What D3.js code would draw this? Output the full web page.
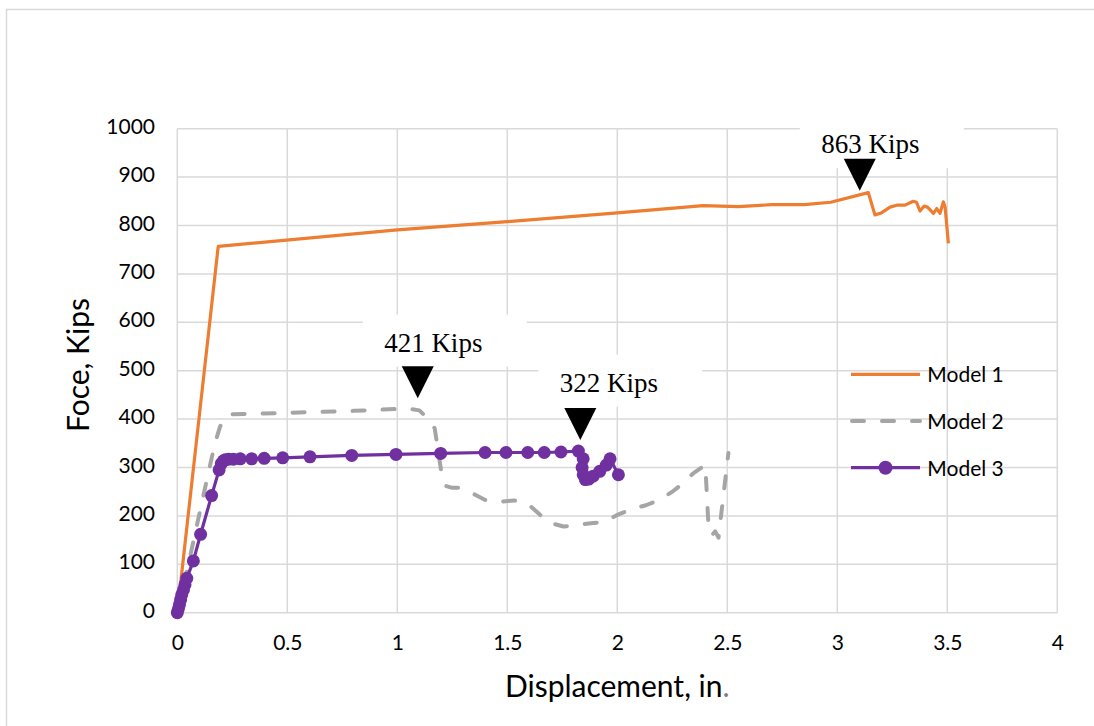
<!DOCTYPE html>
<html>
<head>
<meta charset="utf-8">
<script src="https://cdn.jsdelivr.net/npm/d3@7"></script>
<style>
  html, body { margin: 0; padding: 0; background: #fff; }
  svg { display: block; }
</style>
</head>
<body>
<svg id="chart" width="1094" height="726"></svg>
<script>
// ---------------- DATA ----------------
const xTicks = [0, 0.5, 1, 1.5, 2, 2.5, 3, 3.5, 4];
const xTickLabels = ["0", "0.5", "1", "1.5", "2", "2.5", "3", "3.5", "4"];
const yTicks = [0, 100, 200, 300, 400, 500, 600, 700, 800, 900, 1000];
const yTickLabels = ["0", "100", "200", "300", "400", "500", "600", "700", "800", "900", "1000"];

const seriesNames = ["Model 1", "Model 2", "Model 3"];

const model1X = [0, 0.186, 1.0, 1.5, 2.0, 2.39, 2.55, 2.7, 2.85, 2.97, 3.141, 3.171, 3.20, 3.24, 3.27, 3.308, 3.345, 3.36, 3.376, 3.394, 3.41, 3.437, 3.452, 3.467, 3.482, 3.49, 3.505];
const model1Y = [0, 757, 791, 808, 826, 841, 839, 843, 843, 848, 868, 822, 826, 838, 842, 842, 850, 848, 830, 840, 838, 825, 835, 825, 849, 838, 763];

const model2X = [0, 0.06, 0.12, 0.171, 0.194, 0.215, 0.24, 0.5, 0.8, 1.0, 1.06, 1.1, 1.13, 1.17, 1.20, 1.22, 1.25, 1.285, 1.34, 1.40, 1.46, 1.53, 1.59, 1.64, 1.685, 1.755, 1.82, 1.88, 1.94, 2.0, 2.07, 2.13, 2.19, 2.25, 2.30, 2.345, 2.40, 2.415, 2.43, 2.445, 2.46, 2.505];
const model2Y = [0, 120, 245, 350, 384, 403, 410, 413, 417, 421, 421, 418, 405, 381, 291, 262, 258, 258, 247, 233, 229, 232, 226, 206, 187, 178, 181, 185, 187, 202, 215, 222, 233, 250, 268, 288, 305, 175, 160, 168, 155, 330];

const model3X = [0, 0.005, 0.01, 0.015, 0.02, 0.028, 0.035, 0.043, 0.073, 0.106, 0.156, 0.19, 0.2, 0.21, 0.218, 0.233, 0.255, 0.286, 0.338, 0.395, 0.479, 0.603, 0.793, 0.994, 1.197, 1.399, 1.494, 1.593, 1.668, 1.744, 1.823, 1.845, 1.84, 1.845, 1.855, 1.87, 1.89, 1.92, 1.95, 1.967, 2.005];
const model3Y = [0, 8, 17, 27, 37, 47, 58, 71, 107, 162, 242, 295, 308, 314, 316, 317, 317, 318, 318, 319, 320, 322, 325, 327, 329, 331, 331, 331, 331, 332, 334, 318, 300, 285, 275, 276, 282, 292, 305, 318, 285];

const annotationText = ["421 Kips", "322 Kips", "863 Kips"];
const annotationX = [1.093, 1.832, 3.102];
const annotationY = [443, 357, 872];

// ---------------- LAYOUT / STYLE ----------------
const W = 1094, H = 726;
const plot = { left: 177.3, right: 1057.3, top: 128.7, bottom: 612.7 };
const colors = ["#ED7D31", "#A5A5A5", "#7030A0"];
const gridColor = "#D9D9D9";
const uiFont = "Lato, 'Open Sans', 'DejaVu Sans', sans-serif";
const serifFont = "'Liberation Serif', 'DejaVu Serif', serif";
// pixel offsets of label text relative to the arrow tip
const annLayout = [
  { dx: 15.5, dy: -46.6 },
  { dx: 28.5, dy: -48.3 },
  { dx: 10.6, dy: -37.4 }
];

const svg = d3.select("#chart");
svg.append("rect").attr("x", 0).attr("y", 0).attr("width", W).attr("height", H).attr("fill", "#fff");
// outer chart border
svg.append("rect").attr("x", 6.5).attr("y", 9.5).attr("width", W + 20).attr("height", H + 20)
  .attr("fill", "none").attr("stroke", gridColor).attr("stroke-width", 1.5);

const x = d3.scaleLinear().domain([0, 4]).range([plot.left, plot.right]);
const y = d3.scaleLinear().domain([0, 1000]).range([plot.bottom, plot.top]);

// gridlines
const grid = svg.append("g");
grid.selectAll("line.h").data(yTicks).join("line")
  .attr("x1", plot.left).attr("x2", plot.right)
  .attr("y1", d => y(d)).attr("y2", d => y(d))
  .attr("stroke", gridColor).attr("stroke-width", 1.5);
grid.selectAll("line.v").data(xTicks).join("line")
  .attr("y1", plot.top).attr("y2", plot.bottom)
  .attr("x1", d => x(d)).attr("x2", d => x(d))
  .attr("stroke", gridColor).attr("stroke-width", 1.5);

// axes (labels only)
const xAxis = d3.axisBottom(x).tickValues(xTicks).tickSize(0).tickPadding(22.4)
  .tickFormat((d, i) => xTickLabels[i]);
const gx = svg.append("g").attr("transform", `translate(0,${plot.bottom})`).call(xAxis);
gx.select(".domain").remove();
gx.selectAll("text").attr("font-family", uiFont).attr("font-size", 21).attr("fill", "#000");

const yAxis = d3.axisLeft(y).tickValues(yTicks).tickSize(0).tickPadding(22.3)
  .tickFormat((d, i) => yTickLabels[i]);
const gy = svg.append("g").attr("transform", `translate(${plot.left},0)`).call(yAxis);
gy.select(".domain").remove();
gy.selectAll("text").attr("font-family", uiFont).attr("font-size", 21).attr("fill", "#000").attr("dy", "0.22em");

// axis titles
const xt = svg.append("text").attr("x", (plot.left + plot.right) / 2).attr("y", 697)
  .attr("text-anchor", "middle").attr("font-family", uiFont).attr("font-size", 30).attr("fill", "#000");
xt.append("tspan").text("Displacement, in");
xt.append("tspan").attr("fill", "#7F7F7F").text(".");

svg.append("text").attr("transform", "translate(89,365) rotate(-90)")
  .attr("text-anchor", "middle").attr("font-family", uiFont).attr("font-size", 30).attr("fill", "#000")
  .text("Foce, Kips");

// series
const line = d3.line().x(d => x(d[0])).y(d => y(d[1]));
const m1 = model1X.map((v, i) => [v, model1Y[i]]);
const m2 = model2X.map((v, i) => [v, model2Y[i]]);
const m3 = model3X.map((v, i) => [v, model3Y[i]]);

svg.append("path").datum(m2).attr("d", line).attr("fill", "none")
  .attr("stroke", colors[1]).attr("stroke-width", 4).attr("stroke-dasharray", "12,18")
  .attr("stroke-linecap", "round").attr("stroke-linejoin", "round");
svg.append("path").datum(m1).attr("d", line).attr("fill", "none")
  .attr("stroke", colors[0]).attr("stroke-width", 3.2).attr("stroke-linejoin", "round");
svg.append("path").datum(m3).attr("d", line).attr("fill", "none")
  .attr("stroke", colors[2]).attr("stroke-width", 3.2).attr("stroke-linejoin", "round");
svg.append("g").selectAll("circle").data(m3).join("circle")
  .attr("cx", d => x(d[0])).attr("cy", d => y(d[1])).attr("r", 6.5).attr("fill", colors[2]);

// annotations
const ann = svg.append("g");
annotationText.forEach((t, i) => {
  const tx = x(annotationX[i]), ty = y(annotationY[i]);
  const cx = tx + annLayout[i].dx, by = ty + annLayout[i].dy;
  ann.append("rect").attr("x", cx + 11.5 - 82).attr("y", by - 37).attr("width", 164).attr("height", 52).attr("fill", "#fff");
  ann.append("text").attr("x", cx).attr("y", by).attr("text-anchor", "middle")
    .attr("font-family", serifFont).attr("font-size", 27).attr("fill", "#000").text(t);
  ann.append("path").attr("d", `M${tx - 16},${ty - 32}L${tx + 16},${ty - 32}L${tx},${ty}Z`).attr("fill", "#000");
});

// legend
const legY = [374.3, 421, 467.7];
const leg = svg.append("g");
seriesNames.forEach((n, i) => {
  const ly = legY[i];
  const l = leg.append("line").attr("x1", 851).attr("x2", 920).attr("y1", ly).attr("y2", ly)
    .attr("stroke", colors[i]).attr("stroke-width", i === 1 ? 4 : 3.2);
  if (i === 1) l.attr("stroke-dasharray", "12,18").attr("stroke-linecap", "round").attr("x1", 852);
  if (i === 2) leg.append("circle").attr("cx", 885.5).attr("cy", ly).attr("r", 7).attr("fill", colors[i]);
  leg.append("text").attr("x", 927.3).attr("y", ly + 8).attr("font-family", uiFont).attr("font-size", 21)
    .attr("fill", "#000").text(n);
});
</script>
</body>
</html>
